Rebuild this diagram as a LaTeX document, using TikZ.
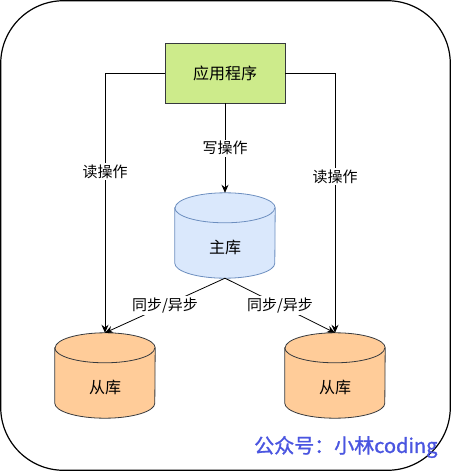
\documentclass[tikz,border=0pt]{standalone}
\usepackage{fontspec}
\setmainfont{Noto Sans CJK SC}
\newfontfamily\markfont[FakeBold=1.2]{Noto Sans CJK SC}
\usetikzlibrary{arrows.meta}

\definecolor{appgreen}{HTML}{CDEB8B}
\definecolor{masterblue}{HTML}{DAE8FC}
\definecolor{masterline}{HTML}{6C8EBF}
\definecolor{slaveorange}{HTML}{FFCC99}
\definecolor{darkline}{HTML}{36393D}
\definecolor{markblue}{RGB}{74,85,224}

\tikzset{
    db/.style={minimum width=100pt, minimum height=85pt, inner sep=0pt},
    lbl/.style={fill=white, inner sep=1.5pt, font=\fontsize{15}{18}\selectfont},
    conn/.style={-{Stealth[length=8pt,width=7pt]}, line width=0.8pt},
}

% cylinder drawn round an empty node
\newcommand{\dbshape}[3]{%
    \filldraw [fill=#2, draw=#3, line width=0.8pt]
        ([yshift=-15pt]#1.north west) -- ([yshift=15pt]#1.south west)
        arc [start angle=180, end angle=360, x radius=50pt, y radius=15pt]
        -- ([yshift=-15pt]#1.north east)
        arc [start angle=0, end angle=180, x radius=50pt, y radius=15pt] -- cycle;
    \draw [draw=#3, line width=0.8pt] ([yshift=-15pt]#1.north west)
        arc [start angle=180, end angle=360, x radius=50pt, y radius=15pt];
}

\begin{document}
\begin{tikzpicture}[x=1pt, y=-1pt]

        \useasboundingbox (0,0) rectangle (451,471);
        \draw [line width=1.2pt, rounded corners=63pt] (0.7,0.7) rectangle (450.3,470.3);

        \node [draw=darkline, fill=appgreen, line width=0.8pt, minimum width=120pt, minimum height=60pt,
               font=\fontsize{16}{19}\selectfont] (app) at (225,73) {应用程序};

        \node [db] (master) at (225,235.5) {};
        \node [db] (slaveL) at (105,375.5) {};
        \node [db] (slaveR) at (335,375.5) {};
        \dbshape{master}{masterblue}{masterline}
        \dbshape{slaveL}{slaveorange}{darkline}
        \dbshape{slaveR}{slaveorange}{darkline}

        \node [font=\fontsize{16}{19}\selectfont] (masterT) at (225,247) {主库};
        \node [font=\fontsize{16}{19}\selectfont] (slaveLT) at (105,387) {从库};
        \node [font=\fontsize{16}{19}\selectfont] (slaveRT) at (335,387) {从库};

        \draw [conn] (app.south) -- (master.north) node [lbl, pos=0.5] {写操作};
        \draw [conn] (app.west) -| (slaveL.north) node [lbl, pos=0.69] {读操作};
        \draw [conn] (app.east) -| (slaveR.north) node [lbl, pos=0.7] {读操作};

        \draw [conn] (master.south) -- (slaveL.north) node [lbl, pos=0.5] {同步/异步};
        \draw [conn] (master.south) -- (slaveR.north) node [lbl, pos=0.5] {同步/异步};

        \node [text=markblue, font=\fontsize{20}{24}\markfont, anchor=east] (mark) at (441,447) {公众号：小林coding};
    \end{tikzpicture}
\end{document}
